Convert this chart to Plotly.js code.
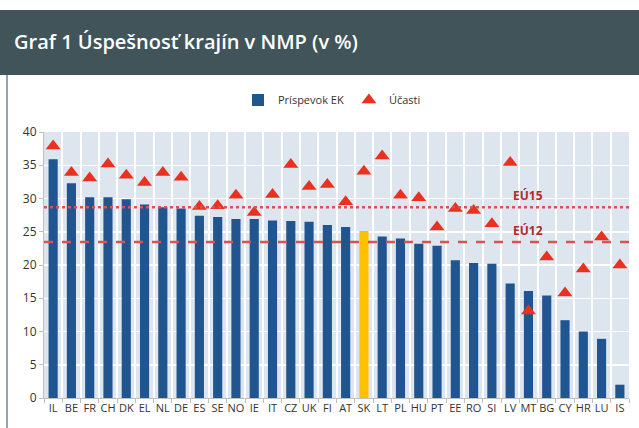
<!DOCTYPE html>
<html>
<head>
<meta charset="utf-8">
<script src="https://cdn.plot.ly/plotly-3.0.1.min.js"></script>
<style>html,body{margin:0;padding:0;background:#fff;}#chart{width:639px;height:428px;}</style>
</head>
<body>
<div id="chart"></div>
<script>
const countries = ["IL","BE","FR","CH","DK","EL","NL","DE","ES","SE","NO","IE","IT","CZ","UK","FI","AT","SK","LT","PL","HU","PT","EE","RO","SI","LV","MT","BG","CY","HR","LU","IS"];
const prispevokEK = [35.9,32.3,30.2,30.2,29.9,29.1,28.7,28.5,27.4,27.2,26.9,26.9,26.7,26.6,26.5,26.0,25.7,25.1,24.3,24.0,23.2,22.9,20.7,20.3,20.2,17.2,16.1,15.4,11.7,10.0,8.9,2.0];
const ucasti = [37.9,33.9,33.1,35.2,33.5,32.4,33.9,33.2,28.8,28.9,30.5,27.9,30.6,35.1,31.8,32.1,29.5,34.1,36.4,30.5,30.1,25.7,28.5,28.2,26.2,35.4,13.1,21.2,15.8,19.4,24.2,20.0];
const benchmarkNames = ["EÚ15","EÚ12"];
const benchmarkValues = [28.7,23.45];
const highlight = "SK";
const yTicks = [0,5,10,15,20,25,30,35,40];

const W = 639, H = 428;
const M = {l:44, r:10, t:132, b:30};
const PW = W - M.l - M.r, PH = H - M.t - M.b;
const px = x => (x - M.l) / PW;
const py = y => (H - M.b - y) / PH;

const barColors = countries.map(c => c === highlight ? "#ffc000" : "#21558f");

const traces = [
  {type:"bar", name:"Príspevok EK", x:countries, y:prispevokEK,
   marker:{color:barColors}, hoverinfo:"x+y"},
  {type:"scatter", mode:"markers", name:"Účasti", x:countries, y:ucasti,
   marker:{symbol:"triangle-up", size:13, color:"#e8321f"}}
];

const shapes = [
  {type:"rect", xref:"paper", yref:"paper", x0:px(0), x1:px(W), y0:py(75), y1:py(10),
   fillcolor:"#405459", line:{width:0}, layer:"above"},
  {type:"line", xref:"paper", yref:"paper", x0:px(7), x1:px(7), y0:py(H), y1:py(75),
   line:{color:"#8ea5c2", width:2}}
];
const dashes = ["dot","dash"];
benchmarkValues.forEach((v,i) => {
  shapes.push({type:"line", xref:"paper", yref:"y", x0:0, x1:1, y0:v, y1:v,
    line:{color:"#d9534f", width:2.5, dash:dashes[i]}, layer:"above"});
});

const annotations = [
  {xref:"paper", yref:"paper", x:px(12), y:py(42), xanchor:"left", yanchor:"middle",
   text:"Graf 1 Úspešnosť krajín v NMP (v %)", showarrow:false,
   font:{family:"Open Sans", size:20, color:"#ffffff", weight:600}}
];
benchmarkNames.forEach((n,i) => {
  annotations.push({xref:"paper", yref:"y", x:px(545), y:benchmarkValues[i], yanchor:"bottom",
    yshift:1, text:"<b>"+n+"</b>", showarrow:false,
    font:{family:"Open Sans", size:12, color:"#b22a2a"}});
});

const layout = {
  width:W, height:H, margin:M,
  paper_bgcolor:"#ffffff", plot_bgcolor:"#dde5ef",
  font:{family:"Open Sans", size:11, color:"#333"},
  bargap:0.5, showlegend:true,
  legend:{orientation:"h", x:px(332), xanchor:"center", y:py(100), yanchor:"middle",
          font:{size:11, color:"#333"}, itemwidth:30, tracegroupgap:0},
  xaxis:{type:"category", range:[-0.5, countries.length - 0.5], tickson:"boundaries",
         showgrid:true, gridcolor:"#ffffff", gridwidth:2,
         ticks:"outside", ticklen:4, tickcolor:"#bfbfbf", showline:true, linecolor:"#bfbfbf",
         tickangle:0, automargin:false,
         tickfont:{family:"Liberation Sans Narrow, Open Sans", size:11, color:"#333"}, fixedrange:true},
  yaxis:{range:[0,40], tickvals:yTicks, showgrid:true, gridcolor:"#ffffff", gridwidth:1.5,
         zeroline:false, ticks:"outside", ticklen:4, tickcolor:"#bfbfbf", automargin:false,
         showline:true, linecolor:"#bfbfbf", tickfont:{size:12, color:"#333"}, fixedrange:true},
  shapes:shapes, annotations:annotations
};

Plotly.newPlot("chart", traces, layout, {displayModeBar:false, staticPlot:true});
</script>
</body>
</html>
